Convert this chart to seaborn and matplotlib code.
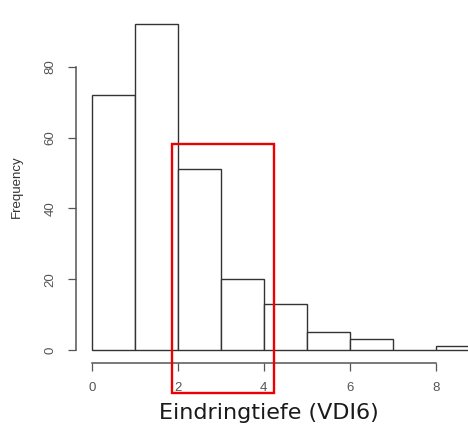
import numpy as np
import matplotlib
matplotlib.use("Agg")
import matplotlib.pyplot as plt
import matplotlib.patches as patches
import seaborn as sns

# histogram bins (VDI6 penetration depth) and counts per bin
bin_edges = [0, 1, 2, 3, 4, 5, 6, 7, 8, 9]
counts = [72, 92, 51, 20, 13, 5, 3, 0, 1]
x_ticks = [0, 2, 4, 6, 8]
y_ticks = [0, 20, 40, 60, 80]

sns.set_style("white")
plt.rcParams["font.family"] = ["Liberation Sans", "DejaVu Sans"]

centers = [(a + b) / 2 for a, b in zip(bin_edges[:-1], bin_edges[1:])]

fig = plt.figure(figsize=(4.68, 4.26), dpi=100)
ax = fig.add_axes([0.1624, 0.1479, 0.8376, 0.8521])

sns.histplot(
    x=centers,
    weights=counts,
    bins=bin_edges,
    stat="count",
    color="white",
    edgecolor="#333333",
    linewidth=1.0,
    alpha=1,
    ax=ax,
)

ax.set_xlim(-0.365, 8.751)
ax.set_ylim(-3.67, 98.84)

for side in ["top", "right"]:
    ax.spines[side].set_visible(False)
for side in ["left", "bottom"]:
    ax.spines[side].set_color("#555555")
    ax.spines[side].set_linewidth(1.1)
ax.spines["bottom"].set_bounds(0, 8)
ax.spines["left"].set_bounds(0, 80)

ax.set_xticks(x_ticks)
ax.set_yticks(y_ticks)
ax.tick_params(axis="both", direction="out", length=5.5, width=0.9,
               bottom=True, left=True,
               color="#555555", labelcolor="#555555", labelsize=9.5, pad=8.5)
ax.tick_params(axis="y", labelrotation=90)
for lab in ax.get_yticklabels():
    lab.set_va("center")

ax.set_xlabel("")
ax.set_ylabel("Frequency", fontsize=9.5, color="#333333")
ax.yaxis.set_label_coords(-0.135, 0.485)

fig.text(0.5748, 0.0305, "Eindringtiefe (VDI6)", fontsize=16,
         family="DejaVu Sans", color="#1a1a1a", ha="center", va="center")

# red highlight box
fig.patches.append(patches.Rectangle(
    (0.3682, 0.0768), 0.2173, 0.5845, transform=fig.transFigure,
    fill=False, edgecolor="#ee0000", linewidth=1.7, zorder=10))

fig.savefig("out.png", dpi=100)
